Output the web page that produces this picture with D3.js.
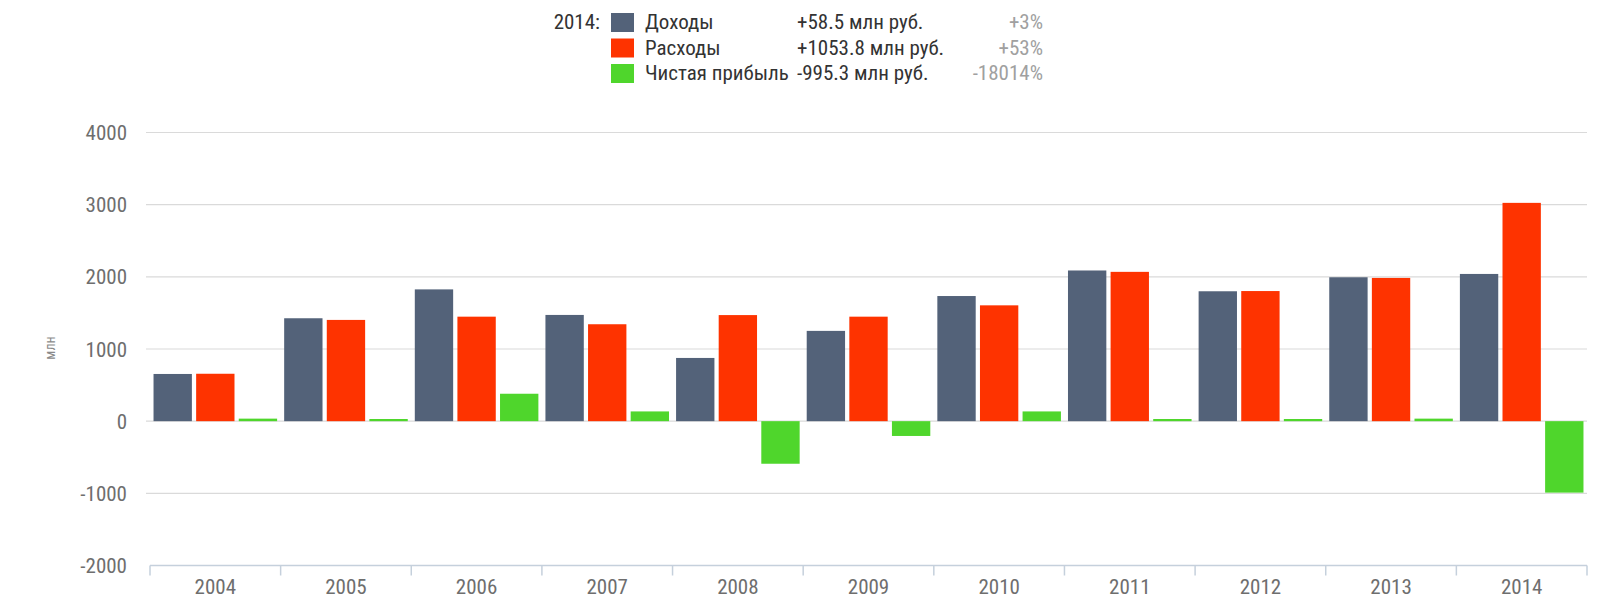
<!DOCTYPE html>
<html>
<head>
<meta charset="utf-8">
<script src="https://cdn.jsdelivr.net/npm/d3@7"></script>
<style>
    body { margin: 0; background: #fff; }
    svg { display: block; }
    text { font-family: "Liberation Sans Narrow", "Roboto Condensed", "DejaVu Sans Condensed", sans-serif; }
</style>
</head>
<body>
<div id="chart"></div>
<script>
const years = ["2004", "2005", "2006", "2007", "2008", "2009", "2010", "2011", "2012", "2013", "2014"];
const income = [654, 1426, 1826, 1472, 876, 1251, 1734, 2088, 1800, 1994, 2040];
const expenses = [657, 1403, 1448, 1343, 1470, 1448, 1605, 2069, 1803, 1985, 3025];
const profit = [35, 30, 380, 135, -590, -205, 135, 30, 30, 35, -990];
const seriesNames = ["Доходы", "Расходы", "Чистая прибыль"];
const seriesColors = ["#536279", "#fe3300", "#4fd62c"];
const legendDelta = ["+58.5 млн руб.", "+1053.8 млн руб.", "-995.3 млн руб."];
const legendPct = ["+3%", "+53%", "-18014%"];
const yTicks = [-2000, -1000, 0, 1000, 2000, 3000, 4000];

const W = 1614, H = 605;
const svg = d3.select("#chart").append("svg").attr("width", W).attr("height", H);

const series = [income, expenses, profit];
const rows = years.map((y, i) => ({ year: y, values: series.map((s, k) => ({ k: k, v: s[i] })) }));

const x0 = d3.scaleBand().domain(years).range([150, 1587]).paddingInner(0.054).paddingOuter(0.027);
const x1 = d3.scaleBand().domain([0, 1, 2]).range([0, x0.bandwidth()]).paddingInner(0.1);
const y = d3.scaleLinear().domain([-2000, 4000]).range([565.5, 132.5]);

// gridlines
svg.append("g")
    .selectAll("line")
    .data(yTicks.filter(t => t > -2000))
    .join("line")
    .attr("x1", 146).attr("x2", 1587)
    .attr("y1", d => y(d)).attr("y2", d => y(d))
    .style("stroke", "#dadada")
    .style("stroke-width", 1.2);

// y tick labels
svg.append("g")
    .selectAll("text")
    .data(yTicks)
    .join("text")
    .attr("x", 127)
    .attr("y", d => y(d))
    .attr("dy", "0.36em")
    .attr("text-anchor", "end")
    .style("font-size", "21px")
    .style("fill", "#6e6e6e")
    .text(d => d);

svg.append("text")
    .attr("transform", "translate(55,348) rotate(-90)")
    .attr("text-anchor", "middle")
    .style("font-size", "14px")
    .style("fill", "#8a8a8a")
    .text("млн");

// bars
svg.append("g")
    .selectAll("g")
    .data(rows)
    .join("g")
    .attr("transform", d => "translate(" + x0(d.year) + ",0)")
    .selectAll("rect")
    .data(d => d.values)
    .join("rect")
    .attr("x", d => x1(d.k))
    .attr("width", x1.bandwidth())
    .attr("y", d => y(Math.max(0, d.v)))
    .attr("height", d => Math.abs(y(d.v) - y(0)))
    .style("fill", d => seriesColors[d.k]);

// x axis
const xAxis = d3.axisBottom(x0).tickSize(0).tickPadding(14);
const gx = svg.append("g").attr("transform", "translate(0," + y(-2000) + ")").call(xAxis);
gx.select(".domain").remove();
gx.selectAll("text").style("font-size", "21px").style("fill", "#6e6e6e").attr("dy", "0.71em").style("font-family", null);
gx.append("line").attr("x1", 150).attr("x2", 1587).attr("y1", 0).attr("y2", 0)
    .style("stroke", "#c5d0dc").style("stroke-width", 1.5);
const bounds = years.map(d => x0(d) - x0.step() * x0.paddingInner() / 2).concat([1587]);
gx.selectAll(".sep")
    .data(bounds)
    .join("line")
    .attr("class", "sep")
    .attr("x1", d => d).attr("x2", d => d)
    .attr("y1", 0).attr("y2", 10)
    .style("stroke", "#c5d0dc").style("stroke-width", 1.5);

// legend
const lg = svg.append("g");
lg.append("text")
    .attr("x", 600).attr("y", 29)
    .attr("text-anchor", "end")
    .style("font-size", "21px").style("fill", "#333")
    .text("2014:");
const items = lg.selectAll("g.item")
    .data(seriesNames)
    .join("g")
    .attr("class", "item")
    .attr("transform", (d, i) => "translate(0," + (i * 25.5) + ")");
items.append("rect")
    .attr("x", 611).attr("y", 13)
    .attr("width", 23).attr("height", 19)
    .style("fill", (d, i) => seriesColors[i]);
items.append("text")
    .attr("x", 645).attr("y", 29)
    .style("font-size", "21px").style("fill", "#333")
    .text(d => d);
items.append("text")
    .attr("x", 797).attr("y", 29)
    .style("font-size", "21px").style("fill", "#333")
    .text((d, i) => legendDelta[i]);
items.append("text")
    .attr("x", 1043).attr("y", 29)
    .attr("text-anchor", "end")
    .style("font-size", "21px").style("fill", "#a0a0a0")
    .text((d, i) => legendPct[i]);
</script>
</body>
</html>
